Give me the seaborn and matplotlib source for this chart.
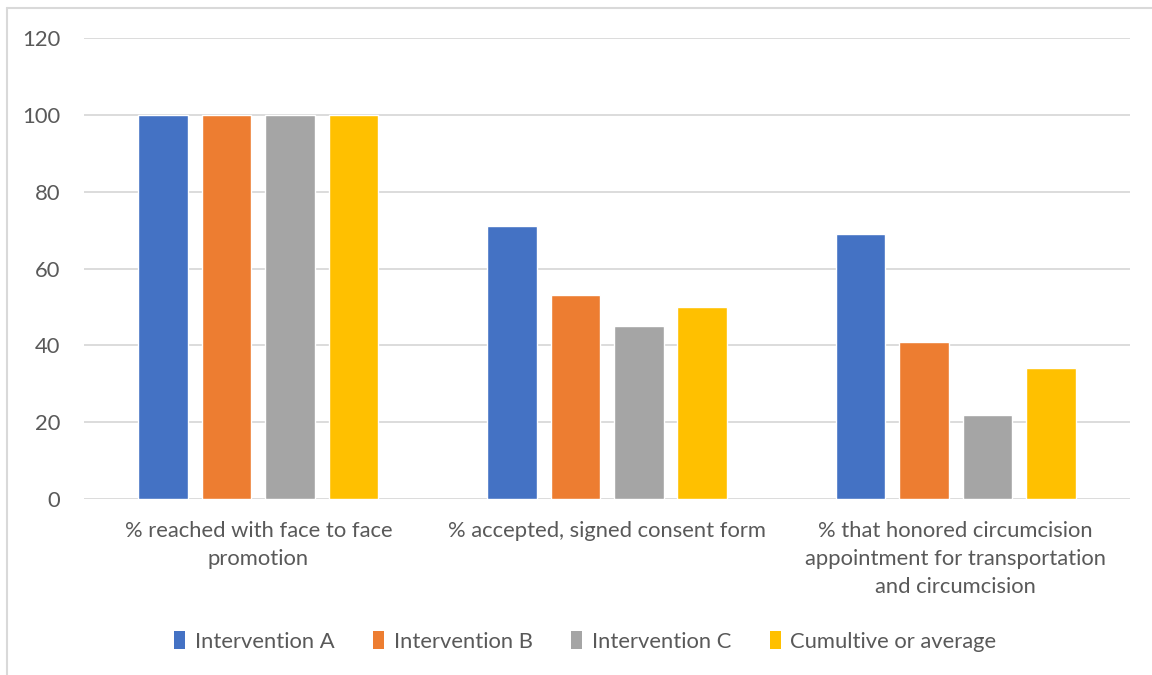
#!/usr/bin/env python3
"""Grouped bar chart: male circumcision promotion cascade by intervention."""

import pandas as pd
import seaborn as sns
import matplotlib.pyplot as plt
from matplotlib.lines import Line2D
from matplotlib.patches import Patch

# Chart data
categories = [
    "% reached with face to face\npromotion",
    "% accepted, signed consent form",
    "% that honored circumcision\nappointment for transportation\nand circumcision",
]
series_names = ["Intervention A", "Intervention B", "Intervention C", "Cumultive or average"]
intervention_a = [100, 71, 69]
intervention_b = [100, 53, 41]
intervention_c = [100, 45, 22]
cumulative_avg = [100, 50, 34]
y_ticks = [0, 20, 40, 60, 80, 100, 120]

colors = ["#4472C4", "#ED7D31", "#A5A5A5", "#FFC000"]
text_color = "#595959"
grid_color = "#D9D9D9"
font_size = 15.8

sns.set_style("white")
plt.rcParams["font.family"] = ["Lato", "DejaVu Sans"]

# Long-form table for seaborn
rows = []
for name, vals in zip(series_names, [intervention_a, intervention_b, intervention_c, cumulative_avg]):
    for cat, v in zip(categories, vals):
        rows.append({"category": cat, "series": name, "value": v})
df = pd.DataFrame(rows)

fig = plt.figure(figsize=(11.52, 6.75), dpi=100)
ax = fig.add_axes([0.0729, 0.2607, 0.9081, 0.683])

sns.barplot(data=df, x="category", y="value", hue="series", order=categories,
            hue_order=series_names, palette=colors, width=0.728, gap=0.22,
            dodge=True, saturation=1, legend=False, ax=ax, zorder=3)

ax.set_ylim(0, 120)
ax.set_xlim(-0.5, 2.5)
ax.set_yticks(y_ticks)
ax.yaxis.grid(True, color=grid_color, linewidth=1.3, zorder=0)
ax.set_axisbelow(True)
for s in ax.spines.values():
    s.set_visible(False)
ax.set_xlabel("")
ax.set_ylabel("")
ax.tick_params(axis="y", length=0, pad=17, labelsize=font_size, labelcolor=text_color)
ax.tick_params(axis="x", length=0, pad=16, labelsize=font_size, labelcolor=text_color)
for lbl in ax.get_xticklabels():
    lbl.set_linespacing(1.5)

# Legend
handles = [Patch(facecolor=c, edgecolor="none") for c in colors]
fig.legend(handles, series_names, loc="center", bbox_to_anchor=(0.508, 0.05),
           ncol=4, frameon=False, fontsize=font_size, labelcolor=text_color,
           handlelength=0.5, handleheight=0.9, handletextpad=0.45, columnspacing=1.75)

# Chart-area border (top and left visible)
fig.add_artist(Line2D([7 / 1152, 7 / 1152], [0, 1 - 8 / 675], color="#D9D9D9", linewidth=1.5))
fig.add_artist(Line2D([7 / 1152, 1], [1 - 8 / 675, 1 - 8 / 675], color="#D9D9D9", linewidth=1.5))

fig.savefig("out.png", dpi=100, facecolor="white")
